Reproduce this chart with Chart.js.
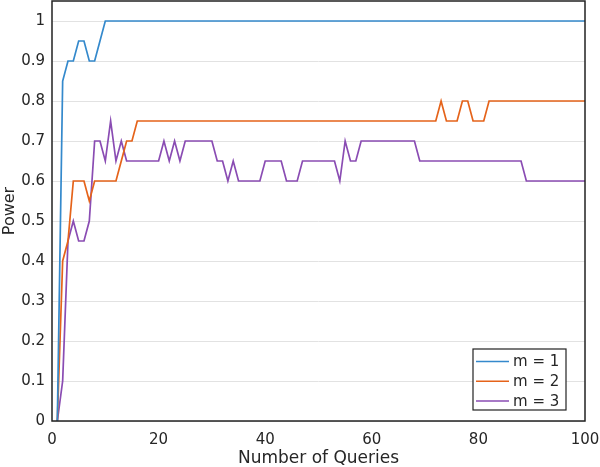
<!DOCTYPE html>
<html>
<head>
<meta charset="utf-8">
<script src="https://cdn.jsdelivr.net/npm/chart.js@4.4.0/dist/chart.umd.min.js"></script>
<style>
    html, body { margin: 0; padding: 0; background: #fff; }
    #wrap { width: 600px; height: 467px; position: relative; }
</style>
</head>
<body>
<div id="wrap"><canvas id="powerChart"></canvas></div>
<script>
// number of queries 1..100
const queries = Array.from({ length: 100 }, (_, i) => i + 1);

const powerM1 = [
    0, 0.85, 0.9, 0.9, 0.95, 0.95, 0.9, 0.9, 0.95, 1,
    1, 1, 1, 1, 1, 1, 1, 1, 1, 1,
    1, 1, 1, 1, 1, 1, 1, 1, 1, 1,
    1, 1, 1, 1, 1, 1, 1, 1, 1, 1,
    1, 1, 1, 1, 1, 1, 1, 1, 1, 1,
    1, 1, 1, 1, 1, 1, 1, 1, 1, 1,
    1, 1, 1, 1, 1, 1, 1, 1, 1, 1,
    1, 1, 1, 1, 1, 1, 1, 1, 1, 1,
    1, 1, 1, 1, 1, 1, 1, 1, 1, 1,
    1, 1, 1, 1, 1, 1, 1, 1, 1, 1,
];

const powerM2 = [
    0, 0.4, 0.45, 0.6, 0.6, 0.6, 0.55, 0.6, 0.6, 0.6,
    0.6, 0.6, 0.65, 0.7, 0.7, 0.75, 0.75, 0.75, 0.75, 0.75,
    0.75, 0.75, 0.75, 0.75, 0.75, 0.75, 0.75, 0.75, 0.75, 0.75,
    0.75, 0.75, 0.75, 0.75, 0.75, 0.75, 0.75, 0.75, 0.75, 0.75,
    0.75, 0.75, 0.75, 0.75, 0.75, 0.75, 0.75, 0.75, 0.75, 0.75,
    0.75, 0.75, 0.75, 0.75, 0.75, 0.75, 0.75, 0.75, 0.75, 0.75,
    0.75, 0.75, 0.75, 0.75, 0.75, 0.75, 0.75, 0.75, 0.75, 0.75,
    0.75, 0.75, 0.8, 0.75, 0.75, 0.75, 0.8, 0.8, 0.75, 0.75,
    0.75, 0.8, 0.8, 0.8, 0.8, 0.8, 0.8, 0.8, 0.8, 0.8,
    0.8, 0.8, 0.8, 0.8, 0.8, 0.8, 0.8, 0.8, 0.8, 0.8,
];

const powerM3 = [
    0, 0.1, 0.45, 0.5, 0.45, 0.45, 0.5, 0.7, 0.7, 0.65,
    0.75, 0.65, 0.7, 0.65, 0.65, 0.65, 0.65, 0.65, 0.65, 0.65,
    0.7, 0.65, 0.7, 0.65, 0.7, 0.7, 0.7, 0.7, 0.7, 0.7,
    0.65, 0.65, 0.6, 0.65, 0.6, 0.6, 0.6, 0.6, 0.6, 0.65,
    0.65, 0.65, 0.65, 0.6, 0.6, 0.6, 0.65, 0.65, 0.65, 0.65,
    0.65, 0.65, 0.65, 0.6, 0.7, 0.65, 0.65, 0.7, 0.7, 0.7,
    0.7, 0.7, 0.7, 0.7, 0.7, 0.7, 0.7, 0.7, 0.65, 0.65,
    0.65, 0.65, 0.65, 0.65, 0.65, 0.65, 0.65, 0.65, 0.65, 0.65,
    0.65, 0.65, 0.65, 0.65, 0.65, 0.65, 0.65, 0.65, 0.6, 0.6,
    0.6, 0.6, 0.6, 0.6, 0.6, 0.6, 0.6, 0.6, 0.6, 0.6,
];

const seriesLabels = ["m = 1", "m = 2", "m = 3"];
const seriesColors = ["#3489cc", "#e5631a", "#8a4cb3"];
const yTicks = [0, 0.1, 0.2, 0.3, 0.4, 0.5, 0.6, 0.7, 0.8, 0.9, 1];
const xTicks = [0, 20, 40, 60, 80, 100];

const FONT = "'DejaVu Sans', sans-serif";

function toPoints(values) {
    return values.map((v, i) => ({ x: queries[i], y: v }));
}

// black box round the plot + legend inside bottom-right
const boxPlugin = {
    id: "boxPlugin",
    afterDraw(chart) {
        const { ctx, chartArea: a } = chart;
        ctx.save();
        ctx.strokeStyle = "#222";
        ctx.lineWidth = 1.5;
        ctx.strokeRect(a.left, a.top, a.right - a.left, a.bottom - a.top);

        const w = 93, h = 61;
        const lx = a.right - 19 - w;
        const ly = a.bottom - 11 - h;
        ctx.fillStyle = "#fff";
        ctx.fillRect(lx, ly, w, h);
        ctx.lineWidth = 1.2;
        ctx.strokeRect(lx, ly, w, h);

        ctx.font = "15px " + FONT;
        ctx.textBaseline = "middle";
        ctx.textAlign = "left";
        chart.data.datasets.forEach((ds, i) => {
            const cy = ly + 12.5 + i * 19.7;
            ctx.strokeStyle = ds.borderColor;
            ctx.lineWidth = 1.5;
            ctx.beginPath();
            ctx.moveTo(lx + 3, cy);
            ctx.lineTo(lx + 36, cy);
            ctx.stroke();
            ctx.fillStyle = "#262626";
            ctx.fillText(ds.label, lx + 40, cy + 1);
        });
        ctx.restore();
    },
};

const ctx = document.getElementById("powerChart").getContext("2d");

const chart = new Chart(ctx, {
    type: "line",
    data: {
        datasets: [powerM1, powerM2, powerM3].map((vals, i) => ({
            label: seriesLabels[i],
            data: toPoints(vals),
            borderColor: seriesColors[i],
            borderWidth: 1.7,
            pointRadius: 0,
            tension: 0,
            fill: false,
        })),
    },
    options: {
        responsive: true,
        maintainAspectRatio: false,
        animation: false,
        layout: { padding: { top: 1, right: 15, left: 0, bottom: 0 } },
        scales: {
            x: {
                type: "linear",
                min: 0,
                max: 100,
                afterBuildTicks: (s) => { s.ticks = xTicks.map((v) => ({ value: v })); },
                afterFit: (s) => {
                    s.height = 46;
                    s.paddingLeft = 0;
                    s.paddingRight = 0;
                },
                grid: { display: false },
                border: { display: false },
                ticks: {
                    color: "#262626",
                    font: { family: FONT, size: 15 },
                    padding: 2,
                    maxRotation: 0,
                },
                title: {
                    display: true,
                    text: "Number of Queries",
                    color: "#262626",
                    font: { family: FONT, size: 17 },
                    padding: { top: 0, bottom: -2 },
                },
            },
            y: {
                min: 0,
                max: 1.05,
                afterBuildTicks: (s) => { s.ticks = yTicks.map((v) => ({ value: v })); },
                afterFit: (s) => {
                    s.width = 52;
                    s.paddingTop = 0;
                    s.paddingBottom = 0;
                },
                grid: { color: "#e2e2e2", lineWidth: 1, drawTicks: false },
                border: { display: false },
                ticks: {
                    color: "#262626",
                    font: { family: FONT, size: 15 },
                    padding: 7,
                    callback: (v) => String(Math.round(v * 10) / 10),
                },
                title: {
                    display: true,
                    text: "Power",
                    color: "#262626",
                    font: { family: FONT, size: 16 },
                    padding: { top: 0, bottom: 0 },
                },
            },
        },
        plugins: {
            legend: { display: false },
            tooltip: { enabled: false },
        },
    },
    plugins: [boxPlugin],
});
</script>
</body>
</html>
